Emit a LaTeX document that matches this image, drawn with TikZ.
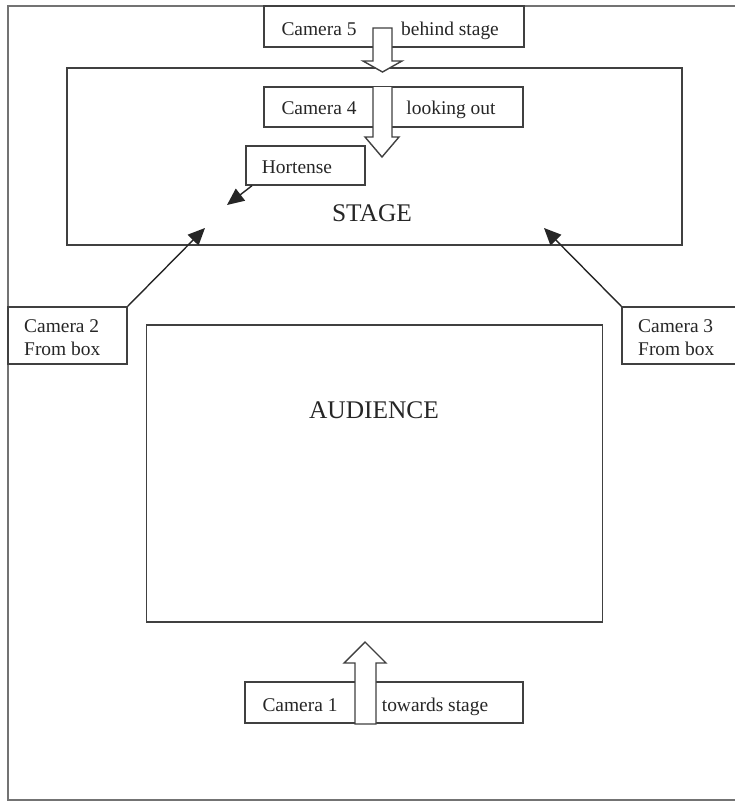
\documentclass[tikz,border=0pt]{standalone}
\usepackage{fontspec}
\setmainfont{Liberation Serif}
\usetikzlibrary{arrows.meta}
\begin{document}
\begin{tikzpicture}[x=1bp,y=-1bp,
  ln/.style={draw=black!75,line width=1.4bp},
  boxn/.style={ln,rectangle,inner sep=0pt,fill=white},
  lbl/.style={inner sep=0pt,anchor=base,font=\fontsize{19.5}{23}\selectfont,text=black!85},
  big/.style={inner sep=0pt,font=\fontsize{25.5}{30}\selectfont,text=black!85},
  blk/.style={ln,fill=white,line join=miter},
  ptr/.style={draw=black!85,line width=1.4bp,-{Triangle[length=17bp,width=15bp]}}]
\useasboundingbox (0,0) rectangle (735,801);
\begin{scope}
\clip (0,0) rectangle (735,801);
% outer frame
\draw[draw=black!55,line width=1.4bp] (745,6) -- (8,6) -- (8,800) -- (745,800);
% boxes
\node[boxn,minimum width=615bp,minimum height=177bp] (stage) at (374.5,156.5) {};
\node[boxn,minimum width=456bp,minimum height=297bp] (aud) at (374.5,473.5) {};
\node[boxn,minimum width=260bp,minimum height=41bp] (c5) at (394,26.5) {};
\node[boxn,minimum width=259bp,minimum height=40bp] (c4) at (393.5,107) {};
\node[boxn,minimum width=119bp,minimum height=39bp] (hort) at (305.5,165.5) {};
\node[boxn,minimum width=119bp,minimum height=57bp] (c2) at (67.5,335.5) {};
\node[boxn,minimum width=128bp,minimum height=57bp] (c3) at (686,335.5) {};
\node[boxn,minimum width=278bp,minimum height=41bp] (c1) at (384,702.5) {};
\end{scope}
% texts
\node[big] (stagetxt) at (372,213) {STAGE};
\node[big] (audtxt) at (374,410) {AUDIENCE};
\node[lbl] (c5a) at (319,36) {Camera 5};
\node[lbl] (c5b) at (450,36) {behind stage};
\node[lbl] (c4a) at (319,114) {Camera 4};
\node[lbl] (c4b) at (451,114) {looking out};
\node[lbl] (horttxt) at (297,173) {Hortense};
\node[inner sep=0pt,font=\fontsize{19.5}{23}\selectfont,text=black!85,align=left,anchor=west] (c2t) at (24,338) {Camera 2\\From box};
\node[inner sep=0pt,font=\fontsize{19.5}{23}\selectfont,text=black!85,align=left,anchor=west] (c3t) at (638,338) {Camera 3\\From box};
\node[lbl] (c1a) at (300,711) {Camera 1};
\node[lbl] (c1b) at (435,711) {towards stage};
% block arrows
\draw[blk] (373,28) -- (392,28) -- (392,61) -- (402,61) -- (382.5,72) -- (363,61) -- (373,61) -- cycle;
\fill[white] (373.7,87) rectangle (391.3,138);
\draw[blk] (373,87) -- (373,137) -- (365,137) -- (382,157) -- (399,137) -- (392,137) -- (392,87);
\draw[blk] (355,724) -- (355,663) -- (344,663) -- (365,642) -- (386,663) -- (376,663) -- (376,724) -- cycle;
% pointer arrows
\coordinate (hortTip) at (227,205);
\coordinate (c2Tip) at (205,228);
\coordinate (c3Tip) at (544,228);
\draw[ptr] ([xshift=-53.5bp]hort.south) -- (hortTip);
\draw[ptr] (c2.north east) -- (c2Tip);
\draw[ptr] (c3.north west) -- (c3Tip);
\end{tikzpicture}
\end{document}
